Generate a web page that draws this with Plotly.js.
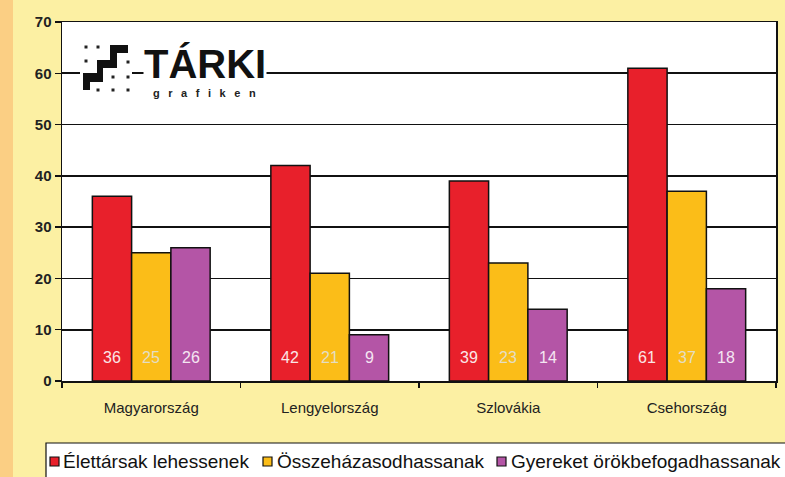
<!DOCTYPE html>
<html><head><meta charset="utf-8">
<script src="https://cdn.plot.ly/plotly-3.0.1.min.js"></script>
<style>
html,body{margin:0;padding:0;}
body{width:785px;height:477px;background:linear-gradient(to right,#fbcf84 0,#fbcf84 13px,#fcf0a3 13px);}
#chart{width:785px;height:477px;}
</style></head><body>
<div id="chart"></div>
<script>
const categories = ['Magyarország','Lengyelország','Szlovákia','Csehország'];
const seriesNames = ['Élettársak lehessenek','Összeházasodhassanak','Gyereket örökbefogadhassanak'];
const elettarsak = [36, 42, 39, 61];
const osszehazasod = [25, 21, 23, 37];
const gyereket = [26, 9, 14, 18];
const yTicks = [0,10,20,30,40,50,60,70];

const colors = ['#e8202b','#fbbd18','#b455a6'];
const labelColors = ['#fbe6e6','#e4ddc4','#f4e6f2'];
const values = [elettarsak, osszehazasod, gyereket];

const L=62, R=9, T=22, B=96, W=785, H=477;
const pw=W-L-R, ph=H-T-B;
const px=x=>(x-L)/pw, py=y=>(H-B-y)/ph;
const bargap=0.34;
const barW = pw/categories.length*(1-bargap)/values.length;

const traces = values.map((v,i)=>({
  type:'bar', x:categories, y:v, name:seriesNames[i],
  marker:{color:colors[i], line:{color:'#111', width:1.5}},
  hoverinfo:'skip', showlegend:false
}));

const shapes=[];
const annotations=[];
// value labels near bar bottoms
values.forEach((v,i)=>{
  v.forEach((n,j)=>{
    annotations.push({x:categories[j],y:0,xref:'x',yref:'y',text:String(n),showarrow:false,
      xanchor:'center',yanchor:'middle',yshift:24,xshift:(i-(values.length-1)/2)*barW,
      font:{family:'Liberation Sans, Arial, sans-serif',size:16,color:labelColors[i]}});
  });
});

// logo
shapes.push({type:'rect',xref:'paper',yref:'paper',x0:px(80),x1:px(132),y0:py(95),y1:py(42),fillcolor:'#fff',line:{width:0},layer:'above'});
const stair=[[110,45],[128,45],[128,53],[117,53],[117,68],[103,68],[103,82],[90,82],[90,90],[83,90],[83,73],[97,73],[97,60],[110,60]];
shapes.push({type:'path',xref:'paper',yref:'paper',path:'M '+stair.map(p=>px(p[0])+','+py(p[1])).join(' L ')+' Z',fillcolor:'#111',line:{width:0},layer:'above'});
const dots=[[86,47],[98,47],[86,61],[128,62],[113,77],[128,77],[98,90],[113,90],[128,90]];
dots.forEach(d=>shapes.push({type:'rect',xref:'paper',yref:'paper',x0:px(d[0]-1.5),x1:px(d[0]+1.5),y0:py(d[1]+1.5),y1:py(d[1]-1.5),fillcolor:'#222',line:{width:0},layer:'above'}));
annotations.push({xref:'paper',yref:'paper',x:px(205),y:py(64),text:'<b>TÁRKI</b>',showarrow:false,xanchor:'center',yanchor:'middle',
  font:{family:'Liberation Sans, Arial, sans-serif',size:40,color:'#111'},bgcolor:'#fff',borderpad:0});
annotations.push({xref:'paper',yref:'paper',x:px(204),y:py(93),text:'<b>g\u2002 r\u2002 a\u2002 f\u2002 i\u2002 k\u2002 e\u2002 n</b>',showarrow:false,xanchor:'center',yanchor:'middle',
  font:{family:'Liberation Sans, Arial, sans-serif',size:11,color:'#222'},bgcolor:'#fff',borderpad:0});

// legend box built from series names/colours
shapes.push({type:'rect',xref:'paper',yref:'paper',x0:px(46),x1:px(795),y0:py(485),y1:py(443),fillcolor:'#fff',line:{color:'#111',width:1.2},layer:'above'});
const legSq=[50,263,497], legTx=[61,275,509];
seriesNames.forEach((nm,i)=>{
  shapes.push({type:'rect',xref:'paper',yref:'paper',x0:px(legSq[i]),x1:px(legSq[i]+9),y0:py(466),y1:py(457),fillcolor:colors[i],line:{color:'#111',width:1.2},layer:'above'});
  annotations.push({xref:'paper',yref:'paper',x:px(legTx[i]),y:py(461),text:nm,showarrow:false,xanchor:'left',yanchor:'middle',
    font:{family:'Liberation Sans, Arial, sans-serif',size:19,color:'#111'}});
});

const layout={
  width:W,height:H,
  margin:{l:L,r:R,t:T,b:B,autoexpand:false},
  paper_bgcolor:'rgba(0,0,0,0)',
  plot_bgcolor:'#ffffff',
  barmode:'group', bargap:bargap, bargroupgap:0,
  showlegend:false,
  xaxis:{type:'category',tickson:'boundaries',ticks:'outside',ticklen:5,tickcolor:'#111',tickwidth:1.5,
    showline:true,linecolor:'#111',linewidth:1.5,mirror:true,showgrid:false,ticklabelstandoff:12,
    tickfont:{family:'Liberation Sans, Arial, sans-serif',size:15,color:'#222'}},
  yaxis:{range:[0,70],tickvals:yTicks,ticktext:yTicks.map(String),ticks:'outside',ticklen:6,tickcolor:'#111',tickwidth:1.5,
    showline:true,linecolor:'#111',linewidth:1.5,mirror:true,
    showgrid:true,gridcolor:'#111',gridwidth:1.8,zeroline:false,
    tickfont:{family:'Liberation Sans, Arial, sans-serif',size:15,color:'#222',weight:'bold'}},
  shapes:shapes, annotations:annotations,
  font:{family:'Liberation Sans, Arial, sans-serif'}
};
Plotly.newPlot('chart',traces,layout,{displayModeBar:false,staticPlot:true});
</script></body></html>
